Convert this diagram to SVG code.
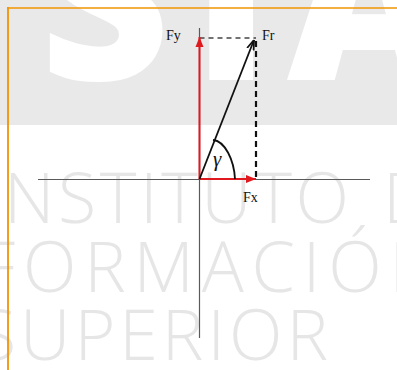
<svg xmlns="http://www.w3.org/2000/svg" width="397" height="370" viewBox="0 0 397 370">
  <style>
    .wm-big { font-family: "Open Sans", "DejaVu Sans", sans-serif; font-weight: 800; font-size: 225px; fill: #ffffff; }
    .wm { font-family: "Open Sans", "DejaVu Sans", sans-serif; font-weight: 350; font-size: 70px; fill: #e6e6e6; }
    .lbl { font-family: "Liberation Serif", "Times New Roman", serif; font-size: 14px; fill: #111; }
    .axis { stroke: #5a5a5a; stroke-width: 1.2; fill: none; }
    .red { stroke: #e0191f; stroke-width: 2; fill: none; }
    .ink { stroke: #111; stroke-width: 1.8; fill: none; }
  </style>
  <defs>
    <marker id="arrRed" markerUnits="userSpaceOnUse" markerWidth="10" markerHeight="10" viewBox="0 0 10 10" refX="10" refY="5" orient="auto">
      <path d="M0,1 L10,5 L0,9 Z" fill="#e0191f"/>
    </marker>
    <marker id="arrBlk" markerUnits="userSpaceOnUse" markerWidth="10" markerHeight="10" viewBox="0 0 10 10" refX="10" refY="5" orient="auto">
      <path d="M0,1.5 L10,5 L0,8.5" fill="none" stroke="#111" stroke-width="1.8"/>
    </marker>
  </defs>

  <!-- background -->
  <rect x="0" y="0" width="397" height="370" fill="#ffffff"/>
  <rect x="0" y="0" width="397" height="125" fill="#e9e9e9"/>

  <!-- watermark -->
  <g id="watermark">
    <text class="wm-big" x="40" y="80">S</text>
    <text class="wm-big" x="192" y="80">I</text>
    <text class="wm-big" x="287" y="80">A</text>
    <text class="wm" y="223"><tspan x="4" textLength="345" lengthAdjust="spacing">NSTITUTO</tspan> <tspan x="383">D</tspan></text>
    <text class="wm" x="-20" y="292" textLength="460" lengthAdjust="spacing">FORMACIÓN</text>
    <text class="wm" x="-22" y="360" textLength="350" lengthAdjust="spacing">SUPERIOR</text>
  </g>

  <!-- orange frame -->
  <g id="frame">
    <line x1="7" y1="8" x2="397" y2="8" stroke="#f29400" stroke-width="1.3"/>
    <line x1="8" y1="7" x2="8" y2="370" stroke="#f29400" stroke-width="1.8"/>
  </g>

  <!-- axes -->
  <g id="axes">
    <line class="axis" x1="38" y1="179.5" x2="370" y2="179.5"/>
    <line class="axis" x1="199.5" y1="28" x2="199.5" y2="338"/>
  </g>

  <!-- connectors / vectors -->
  <g id="connectors">
    <line x1="199.5" y1="38" x2="256" y2="38" stroke="#444" stroke-width="1.6" stroke-dasharray="5,4"/>
    <line x1="256" y1="41" x2="256" y2="179" stroke="#111" stroke-width="2.2" stroke-dasharray="6,4"/>
    <line class="red" x1="199.5" y1="179" x2="199.5" y2="37" marker-end="url(#arrRed)"/>
    <line class="red" x1="199.5" y1="179" x2="256" y2="179" marker-end="url(#arrRed)"/>
    <line class="ink" x1="199.5" y1="179" x2="254" y2="40" marker-end="url(#arrBlk)"/>
    <path class="ink" d="M213,140 C225,141 234,160 235,179"/>
  </g>

  <!-- labels -->
  <g id="label-Fy"><text class="lbl" x="166" y="40">Fy</text></g>
  <g id="label-Fr"><text class="lbl" x="262" y="40">Fr</text></g>
  <g id="label-Fx"><text class="lbl" x="243" y="202">Fx</text></g>
  <g id="label-gamma"><text x="213" y="166" font-family="Liberation Serif, serif" font-style="italic" font-size="21" fill="#111">γ</text></g>
</svg>
